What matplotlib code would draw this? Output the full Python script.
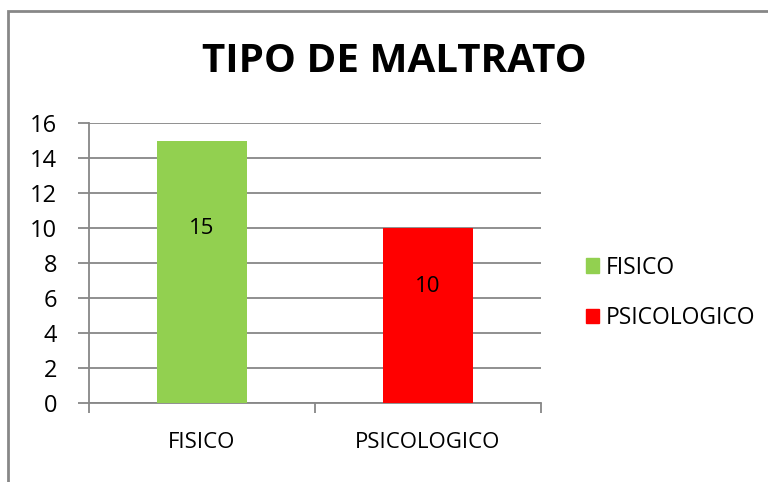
import numpy as np
import matplotlib.pyplot as plt
from matplotlib.patches import Rectangle, Patch

categories = ['FISICO', 'PSICOLOGICO']
values = [15, 10]
colors = ['#92D050', '#FF0000']

plt.rcParams['font.family'] = ['Open Sans', 'DejaVu Sans']
grey = '#878787'

fig = plt.figure(figsize=(7.68, 4.82), dpi=100)
ax = fig.add_axes([89/768, 1 - 403/482, 452/768, 280/482])

ind = np.arange(len(categories))
bars = ax.bar(ind, values, 0.4, color=colors, zorder=3)

# value labels inside the bars
for b, v in zip(bars, values):
    ax.text(b.get_x() + b.get_width()/2, v*2/3, str(v), ha='center', va='center',
            fontsize=16, zorder=4)

ax.set_xlim(-0.5, 1.5)
ax.set_ylim(0, 16)
ax.set_yticks(range(0, 17, 2))
ax.set_xticks([-0.5, 0.5, 1.5])
ax.set_xticklabels([])
ax.set_xticks(ind, minor=True)
ax.set_xticklabels(categories, minor=True, fontsize=16)
ax.tick_params(axis='x', which='minor', length=0, pad=21)
ax.tick_params(axis='x', which='major', length=7, color=grey, width=1.3)
ax.tick_params(axis='y', length=8, color=grey, width=1.3, labelsize=17, pad=15)

ax.grid(axis='y', color=grey, linewidth=1.3, zorder=0)
for s in ['top', 'right']:
    ax.spines[s].set_visible(False)
for s in ['left', 'bottom']:
    ax.spines[s].set_color(grey)
    ax.spines[s].set_linewidth(1.3)

fig.text(394/768, 1 - 62/482, 'TIPO DE MALTRATO', ha='center', va='center',
         fontsize=29, fontweight='bold')

handles = [Patch(color=c) for c in colors]
fig.legend(handles, categories, loc='center left', bbox_to_anchor=(565/768, 1 - 293/482),
           frameon=False, fontsize=16.5, handlelength=0.6, handleheight=0.6,
           handletextpad=0.3, labelspacing=1.15)

fig.add_artist(Rectangle((8/768, -0.1), 1.2, 1.1 - 11/482, transform=fig.transFigure,
                         fill=False, edgecolor=grey, linewidth=2))

fig.savefig('out.png', dpi=100)
